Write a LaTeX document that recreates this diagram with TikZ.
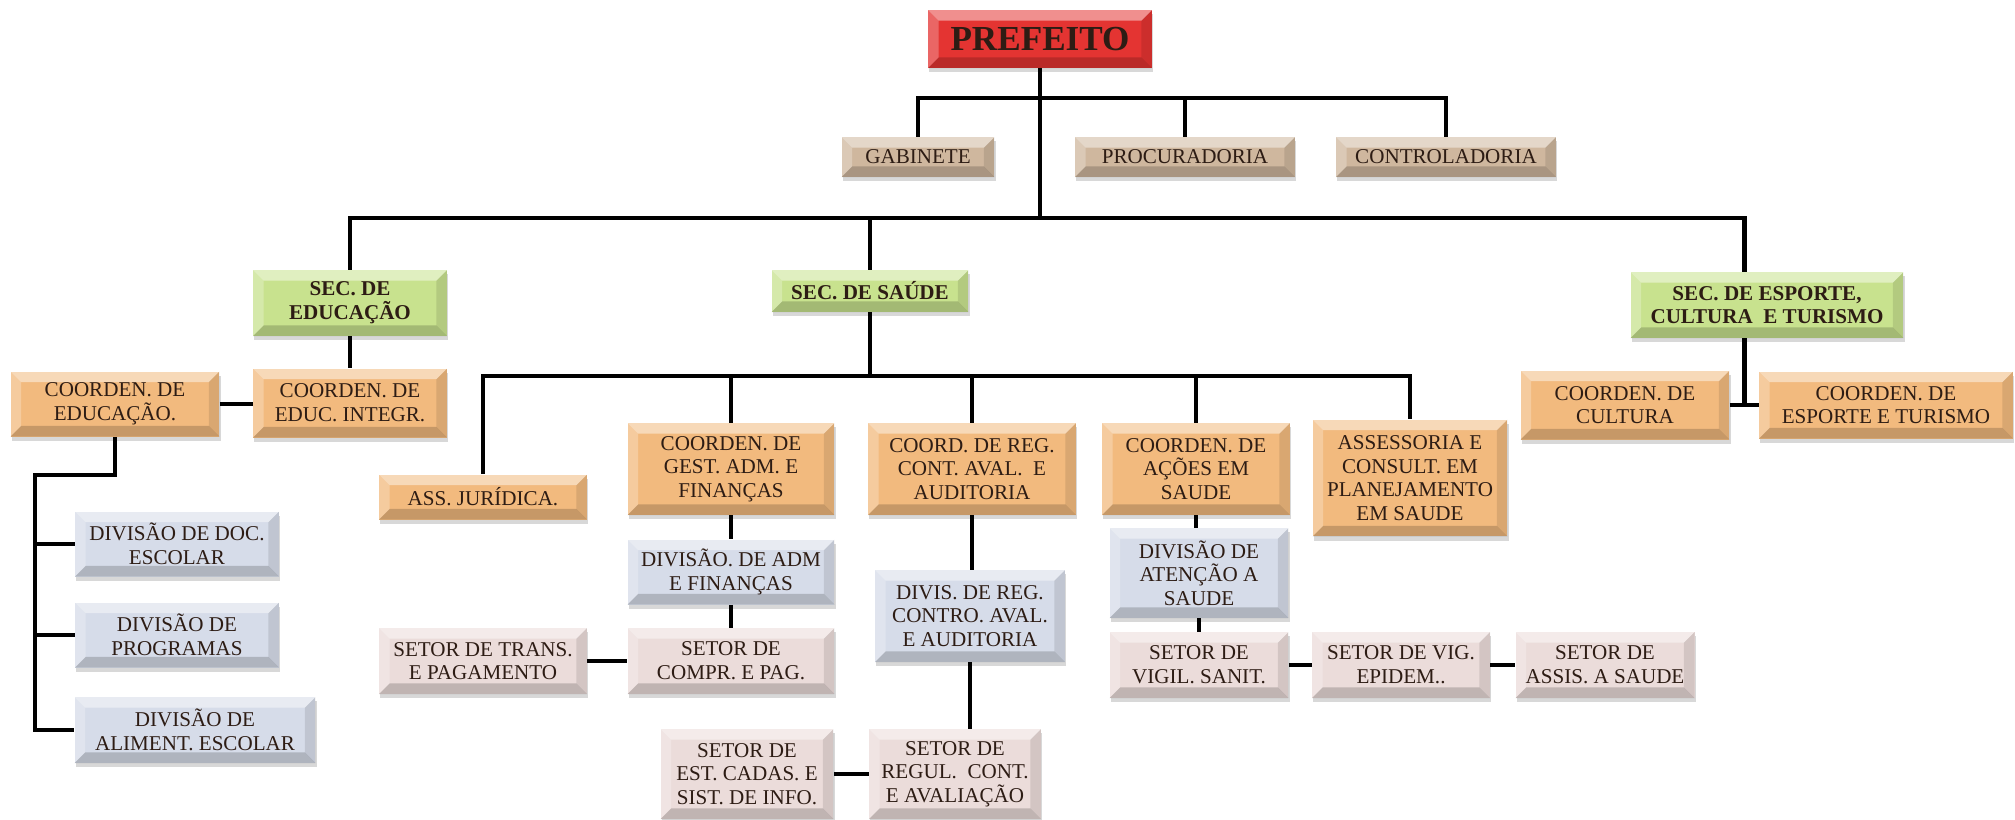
\documentclass[tikz,border=0pt]{standalone}
\usepackage{fontspec}
\setmainfont{Liberation Serif}
\usetikzlibrary{calc,shadows}

\definecolor{vermelho}{RGB}{228,52,50}
\definecolor{bege}{RGB}{207,183,158}
\definecolor{verde}{RGB}{200,226,142}
\definecolor{laranja}{RGB}{242,186,126}
\definecolor{azul}{RGB}{214,220,233}
\definecolor{rosa}{RGB}{235,220,218}
\definecolor{tinta}{RGB}{45,28,20}

\pgfdeclarehorizontalshading{fundo}{100bp}{color(0bp)=(black!14); color(22bp)=(white);
    color(84bp)=(white); color(100bp)=(black!17)}

\tikzset{
    % bordas chanfradas das caixas
    bevel/.style={path picture={
        \coordinate (bsw) at (path picture bounding box.south west);
        \coordinate (bne) at (path picture bounding box.north east);
        \coordinate (bnw) at (bsw |- bne);
        \coordinate (bse) at (bne |- bsw);
        \fill[white, opacity=.45] (bnw) -- (bne) -- ($(bne)+(-6pt,-6pt)$) -- ($(bnw)+(6pt,-6pt)$) -- cycle;
        \fill[white, opacity=.25] (bnw) -- (bsw) -- ($(bsw)+(6pt,6pt)$) -- ($(bnw)+(6pt,-6pt)$) -- cycle;
        \fill[black, opacity=.18] (bsw) -- (bse) -- ($(bse)+(-6pt,6pt)$) -- ($(bsw)+(6pt,6pt)$) -- cycle;
        \fill[black, opacity=.10] (bne) -- (bse) -- ($(bse)+(-6pt,6pt)$) -- ($(bne)+(-6pt,-6pt)$) -- cycle;
    }}
}

\begin{document}
\begin{tikzpicture}[x=0.02cm, y=-0.02cm,
        % Estilos gerais
        caixa/.style={rectangle, align=center, inner sep=2pt, text=tinta,
            font=\fontsize{12}{13.5}\selectfont,
            drop shadow={opacity=.3, shadow xshift=.6pt, shadow yshift=-2.5pt}, bevel},
        chefe/.style={caixa, fill=vermelho, font=\fontsize{20}{22}\selectfont\bfseries},
        apoio/.style={caixa, fill=bege},
        secretaria/.style={caixa, fill=verde, font=\fontsize{12}{13.5}\selectfont\bfseries},
        coord/.style={caixa, fill=laranja},
        divisao/.style={caixa, fill=azul},
        setor/.style={caixa, fill=rosa},
        ligacao/.style={draw=black, line width=2.6pt}
    ]

    % 0. Fundo
    \useasboundingbox (0,0) rectangle (2015,819);
    \clip (0,0) rectangle (2015,819);
    \shade[shading=fundo] (0,0) rectangle (2015,819);

    % 1. Prefeito e assessorias diretas
    \node[chefe, minimum width=4.48cm, minimum height=1.16cm] (prefeito) at (1040,39) {PREFEITO};
    \node[apoio, minimum width=3.06cm, minimum height=0.8cm] (gabinete) at (918,157) {GABINETE};
    \node[apoio, minimum width=4.4cm, minimum height=0.8cm] (procuradoria) at (1185,157) {PROCURADORIA};
    \node[apoio, minimum width=4.4cm, minimum height=0.8cm] (controladoria) at (1446,157) {CONTROLADORIA};

    % 2. Secretarias
    \node[secretaria, minimum width=3.88cm, minimum height=1.32cm] (secedu) at (350,303) {SEC. DE\\EDUCAÇÃO};
    \node[secretaria, minimum width=3.94cm, minimum height=0.84cm] (secsau) at (870,291) {SEC. DE SAÚDE};
    \node[secretaria, minimum width=5.46cm, minimum height=1.32cm] (secesp) at (1767,305) {SEC. DE ESPORTE,\\CULTURA\ \ E TURISMO};

    % 3. Educacao
    \node[coord, minimum width=3.88cm, minimum height=1.38cm] (coordint) at (350,403) {COORDEN. DE\\EDUC. INTEGR.};
    \node[coord, minimum width=4.18cm, minimum height=1.3cm] (coordedu) at (115,404) {COORDEN. DE\\EDUCAÇÃO.};
    \node[divisao, minimum width=4.08cm, minimum height=1.3cm] (divdoc) at (177,544) {DIVISÃO DE DOC.\\ESCOLAR};
    \node[divisao, minimum width=4.08cm, minimum height=1.3cm] (divprog) at (177,635) {DIVISÃO DE\\PROGRAMAS};
    \node[divisao, minimum width=4.82cm, minimum height=1.32cm] (divalim) at (195,730) {DIVISÃO DE\\ALIMENT. ESCOLAR};

    % 4. Saude
    \node[coord, minimum width=4.16cm, minimum height=0.9cm] (assjur) at (483,497) {ASS. JURÍDICA.};
    \node[coord, minimum width=4.14cm, minimum height=1.84cm] (coordgest) at (731,469) {COORDEN. DE\\GEST. ADM. E\\FINANÇAS};
    \node[coord, minimum width=4.16cm, minimum height=1.84cm] (coordreg) at (972,469) {COORD. DE REG.\\CONT. AVAL.\ \ E\\AUDITORIA};
    \node[coord, minimum width=3.76cm, minimum height=1.84cm] (coordacoes) at (1196,469) {COORDEN. DE\\AÇÕES EM\\SAUDE};
    \node[coord, minimum width=3.9cm, minimum height=2.34cm] (assessoria) at (1410,478) {ASSESSORIA E\\CONSULT. EM\\PLANEJAMENTO\\EM SAUDE};

    \node[divisao, minimum width=4.14cm, minimum height=1.3cm] (divadm) at (731,572) {DIVISÃO. DE ADM\\E FINANÇAS};
    \node[setor, minimum width=4.14cm, minimum height=1.32cm] (setcompr) at (731,661) {SETOR DE\\COMPR. E PAG.};
    \node[setor, minimum width=4.16cm, minimum height=1.32cm] (settrans) at (483,661) {SETOR DE TRANS.\\E PAGAMENTO};

    \node[divisao, minimum width=3.8cm, minimum height=1.84cm] (divreg) at (970,616) {DIVIS. DE REG.\\CONTRO. AVAL.\\E AUDITORIA};
    \node[setor, minimum width=3.44cm, minimum height=1.8cm] (setregul) at (955,774) {SETOR DE\\REGUL.\ \ CONT.\\E AVALIAÇÃO};
    \node[setor, minimum width=3.46cm, minimum height=1.8cm] (setest) at (747,774) {SETOR DE\\EST. CADAS. E\\SIST. DE INFO.};

    \node[divisao, minimum width=3.58cm, minimum height=1.8cm] (divaten) at (1199,573) {DIVISÃO DE\\ATENÇÃO A\\SAUDE};
    \node[setor, minimum width=3.58cm, minimum height=1.32cm] (setvigil) at (1199,665) {SETOR DE\\VIGIL. SANIT.};
    \node[setor, minimum width=3.56cm, minimum height=1.32cm] (setepid) at (1401,665) {SETOR DE VIG.\\EPIDEM..};
    \node[setor, minimum width=3.58cm, minimum height=1.32cm] (setassis) at (1605,665) {SETOR DE\\ASSIS. A SAUDE};

    % 5. Esporte, cultura e turismo
    \node[coord, minimum width=4.18cm, minimum height=1.38cm] (coordcult) at (1625,405) {COORDEN. DE\\CULTURA};
    \node[coord, minimum width=5.08cm, minimum height=1.34cm] (coordesp) at (1886,405) {COORDEN. DE\\ESPORTE E TURISMO};

    % 6. Ligacoes
    \coordinate (barratopo) at (0,98);
    \coordinate (barramain) at (0,218);
    \coordinate (barrasau) at (0,376);
    \coordinate (espinha) at (35,475);
    \coordinate (juncesp) at ($(coordcult.east)!.5!(coordesp.west)$);

    \draw[ligacao] (prefeito.south) -- (prefeito.south |- barramain);
    \draw[ligacao] (gabinete.north) |- (barratopo -| controladoria.north) -- (controladoria.north);
    \draw[ligacao] (procuradoria.north) -- (procuradoria.north |- barratopo);

    \draw[ligacao] (secedu.north) |- (barramain -| juncesp) -- (secesp.north -| juncesp);
    \draw[ligacao] (secsau.north) -- (secsau.north |- barramain);
    \draw[ligacao] (secesp.south -| juncesp) -- (juncesp);
    \draw[ligacao] (coordcult.east) -- (coordesp.west);

    \draw[ligacao] (secedu.south) -- (coordint.north);
    \draw[ligacao] (coordedu.east) -- (coordedu.east -| coordint.west);
    \draw[ligacao] (coordedu.south) |- (espinha) |- (divalim.west);
    \draw[ligacao] (espinha |- divdoc.west) -- (divdoc.west);
    \draw[ligacao] (espinha |- divprog.west) -- (divprog.west);

    \draw[ligacao] (secsau.south) -- (secsau.south |- barrasau);
    \draw[ligacao] (assjur.north) |- (barrasau -| assessoria.north) -- (assessoria.north);
    \foreach \n in {coordgest, coordreg, coordacoes}
        \draw[ligacao] (\n.north) -- (\n.north |- barrasau);
    \draw[ligacao] (coordgest.south) -- (divadm.north);
    \draw[ligacao] (divadm.south) -- (setcompr.north);
    \draw[ligacao] (settrans.east) -- (setcompr.west);
    \draw[ligacao] (coordreg.south) -- (coordreg.south |- divreg.north);
    \draw[ligacao] (divreg.south) -- (divreg.south |- setregul.north);
    \draw[ligacao] (setest.east) -- (setregul.west);
    \draw[ligacao] (coordacoes.south) -- (coordacoes.south |- divaten.north);
    \draw[ligacao] (divaten.south) -- (divaten.south |- setvigil.north);
    \draw[ligacao] (setvigil.east) -- (setepid.west);
    \draw[ligacao] (setepid.east) -- (setassis.west);

\end{tikzpicture}
\end{document}
